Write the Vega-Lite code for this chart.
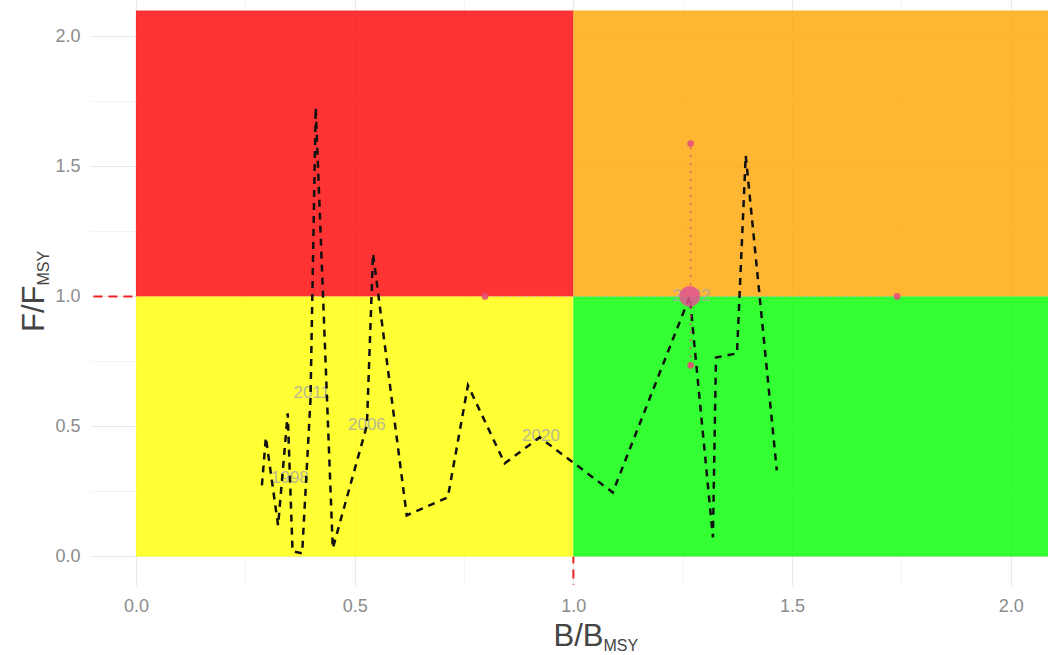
{
  "$schema": "https://vega.github.io/schema/vega-lite/v6.json",
  "width": 958,
  "height": 585,
  "padding": {"left": 90, "top": 0, "right": 0, "bottom": 70},
  "autosize": {"type": "none"},
  "background": "white",
  "config": {"view": {"stroke": null}, "font": "Liberation Sans"},
  "datasets": {
    "zones": [
      {"x1": 0, "x2": 1, "y1": 1, "y2": 2.1, "zone": "red"},
      {"x1": 1, "x2": 2.1, "y1": 1, "y2": 2.1, "zone": "orange"},
      {"x1": 0, "x2": 1, "y1": 0, "y2": 1, "zone": "yellow"},
      {"x1": 1, "x2": 2.1, "y1": 0, "y2": 1, "zone": "green"}
    ],
    "refs": [
      {"x1": 1, "x2": 1, "y1": -0.2, "y2": 0},
      {"x1": -0.2, "x2": 0, "y1": 1, "y2": 1}
    ],
    "path": [
      {"i": 1, "b": 0.288, "f": 0.273},
      {"i": 2, "b": 0.297, "f": 0.458},
      {"i": 3, "b": 0.325, "f": 0.119},
      {"i": 4, "b": 0.347, "f": 0.55},
      {"i": 5, "b": 0.358, "f": 0.02},
      {"i": 6, "b": 0.38, "f": 0.012},
      {"i": 7, "b": 0.399, "f": 0.6},
      {"i": 8, "b": 0.411, "f": 1.727},
      {"i": 9, "b": 0.45, "f": 0.031},
      {"i": 10, "b": 0.528, "f": 0.504},
      {"i": 11, "b": 0.542, "f": 1.165},
      {"i": 12, "b": 0.619, "f": 0.158},
      {"i": 13, "b": 0.713, "f": 0.227},
      {"i": 14, "b": 0.759, "f": 0.658},
      {"i": 15, "b": 0.843, "f": 0.358},
      {"i": 16, "b": 0.923, "f": 0.458},
      {"i": 17, "b": 1.09, "f": 0.246},
      {"i": 18, "b": 1.266, "f": 1.0},
      {"i": 19, "b": 1.319, "f": 0.073},
      {"i": 20, "b": 1.326, "f": 0.765},
      {"i": 21, "b": 1.374, "f": 0.781},
      {"i": 22, "b": 1.394, "f": 1.542},
      {"i": 23, "b": 1.465, "f": 0.331}
    ],
    "labels": [
      {"b": 0.352, "f": 0.3, "label": "1998"},
      {"b": 0.402, "f": 0.627, "label": "2011"},
      {"b": 0.528, "f": 0.504, "label": "2006"},
      {"b": 0.926, "f": 0.465, "label": "2020"},
      {"b": 1.27, "f": 1.0, "label": "2022"}
    ],
    "errv": [{"b": 1.268, "f1": 0.735, "f2": 1.588}],
    "errh": [{"b1": 0.798, "b2": 1.74, "f": 1.0}],
    "ends": [
      {"b": 1.268, "f": 1.588},
      {"b": 1.268, "f": 0.735},
      {"b": 0.798, "f": 1.0},
      {"b": 1.74, "f": 1.0}
    ],
    "current": [{"b": 1.266, "f": 1.0}]
  },
  "layer": [
    {
      "data": {"name": "refs"},
      "mark": {"type": "rule", "color": "#ee2222", "strokeWidth": 2, "strokeDash": [9, 6], "clip": true},
      "encoding": {
        "x": {"field": "x1", "type": "quantitative", "scale": {"domain": [-0.105, 2.085], "nice": false, "zero": false},
          "axis": {"orient": "bottom", "labels": false, "ticks": false, "domain": false, "grid": true,
            "values": [0.25, 0.75, 1.25, 1.75], "gridColor": "#F1F1F1", "gridWidth": 0.8,
            "title": "MSY", "titleFontSize": 16, "titleFontWeight": "normal", "titleColor": "#444444",
            "titleAlign": "left", "titleBaseline": "alphabetic", "titleX": 513, "titleY": 65}},
        "x2": {"field": "x2"},
        "y": {"field": "y1", "type": "quantitative", "scale": {"domain": [-0.11, 2.14], "nice": false, "zero": false},
          "axis": {"orient": "left", "labels": false, "ticks": false, "domain": false, "grid": true,
            "values": [0.25, 0.75, 1.25, 1.75], "gridColor": "#F1F1F1", "gridWidth": 0.8,
            "title": "MSY", "titleFontSize": 16, "titleFontWeight": "normal", "titleColor": "#444444",
            "titleAngle": 270, "titleAlign": "left", "titleBaseline": "alphabetic", "titleX": -42, "titleY": 285}},
        "y2": {"field": "y2"}
      }
    },
    {
      "data": {"name": "zones"},
      "mark": {"type": "rect", "opacity": 0.8, "clip": true},
      "encoding": {
        "x": {"field": "x1", "type": "quantitative",
          "axis": {"orient": "bottom", "values": [0, 0.5, 1, 1.5, 2], "format": ".1f", "labelFontSize": 18,
            "labelColor": "#8c8c8c", "labelPadding": 12, "ticks": false, "domain": false, "grid": true,
            "gridColor": "#E8E8E8", "gridWidth": 1.2,
            "title": "B/B", "titleFontSize": 31, "titleFontWeight": "normal", "titleColor": "#444444",
            "titleAlign": "right", "titleBaseline": "alphabetic", "titleX": 513, "titleY": 60}},
        "x2": {"field": "x2"},
        "y": {"field": "y1", "type": "quantitative",
          "axis": {"orient": "left", "values": [0, 0.5, 1, 1.5, 2], "format": ".1f", "labelFontSize": 18,
            "labelColor": "#8c8c8c", "labelPadding": 10, "ticks": false, "domain": false, "grid": true,
            "gridColor": "#E8E8E8", "gridWidth": 1.2,
            "title": "F/F", "titleFontSize": 31, "titleFontWeight": "normal", "titleColor": "#444444",
            "titleAngle": 270, "titleAlign": "right", "titleBaseline": "alphabetic", "titleX": -47, "titleY": 285}},
        "y2": {"field": "y2"},
        "color": {"field": "zone", "type": "nominal", "legend": null,
          "scale": {"domain": ["red", "orange", "yellow", "green"], "range": ["#FF0000", "#FFA500", "#FFFF00", "#00FF00"]}}
      }
    },
    {
      "data": {"name": "labels"},
      "mark": {"type": "text", "fontSize": 17, "color": "#a8a8a8", "opacity": 0.8, "clip": true},
      "encoding": {
        "x": {"field": "b", "type": "quantitative", "axis": null},
        "y": {"field": "f", "type": "quantitative", "axis": null},
        "text": {"field": "label"}
      }
    },
    {
      "data": {"name": "path"},
      "mark": {"type": "line", "color": "#111111", "strokeWidth": 2.5, "strokeDash": [7, 6], "clip": true},
      "encoding": {
        "x": {"field": "b", "type": "quantitative", "axis": null},
        "y": {"field": "f", "type": "quantitative", "axis": null},
        "order": {"field": "i"}
      }
    },
    {
      "data": {"name": "errv"},
      "mark": {"type": "rule", "color": "#E0507A", "strokeWidth": 1.5, "strokeDash": [2, 6], "clip": true},
      "encoding": {
        "x": {"field": "b", "type": "quantitative", "axis": null},
        "y": {"field": "f1", "type": "quantitative", "axis": null},
        "y2": {"field": "f2"}
      }
    },
    {
      "data": {"name": "errh"},
      "mark": {"type": "rule", "color": "#C9A0D0", "strokeWidth": 1.2, "strokeDash": [2, 6], "opacity": 0.6, "clip": true},
      "encoding": {
        "x": {"field": "b1", "type": "quantitative", "axis": null},
        "x2": {"field": "b2"},
        "y": {"field": "f", "type": "quantitative", "axis": null}
      }
    },
    {
      "data": {"name": "ends"},
      "mark": {"type": "point", "filled": true, "color": "#E5507A", "size": 45, "opacity": 0.9, "clip": true},
      "encoding": {
        "x": {"field": "b", "type": "quantitative", "axis": null},
        "y": {"field": "f", "type": "quantitative", "axis": null}
      }
    },
    {
      "data": {"name": "current"},
      "mark": {"type": "point", "filled": true, "color": "#E3558F", "size": 440, "opacity": 0.85, "clip": true},
      "encoding": {
        "x": {"field": "b", "type": "quantitative", "axis": null},
        "y": {"field": "f", "type": "quantitative", "axis": null}
      }
    }
  ],
  "resolve": {"axis": {"x": "independent", "y": "independent"}}
}
